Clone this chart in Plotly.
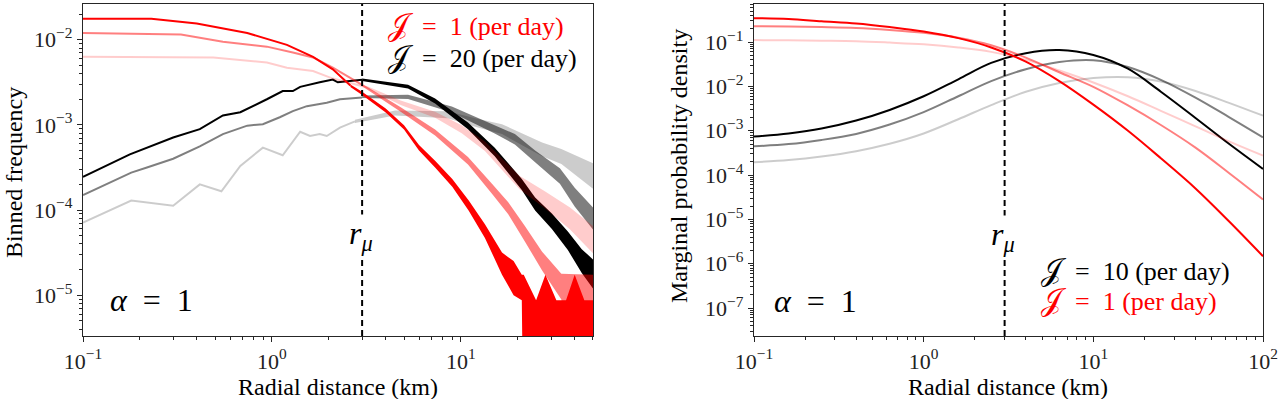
import plotly.graph_objects as go

# ---------------- data ----------------
R_MU = 3.0  # km

# Left panel: binned frequency.  Smooth part as lines, noisy tail as min/max bands
EMPTY = 1e-7  # empty bins (zero counts) -> drawn below the axis

L_RED_X = [0.1, 0.23, 0.4, 0.74, 1.2, 1.65, 2.1, 2.3, 2.6]
L_RED_Y = [1.76e-2, 1.76e-2, 1.55e-2, 1.2e-2, 8.7e-3, 6.3e-3, 4.5e-3, 3.7e-3, 2.9e-3]
L_RED_BX = [2.6, 3.0, 4.0, 5.0, 6.0, 7.3, 9.0, 11.0, 13.4, 16.5, 19.0, 21.0, 21.5, 25, 28, 32, 36, 40, 45, 50]
L_RED_HI = [2.99e-3, 2.45e-3, 1.56e-3, 9.9e-4, 5.8e-4, 3.8e-4, 2.32e-4, 1.29e-4, 6.8e-5, 3.16e-5,
            2.51e-5, 1.74e-5, 1.74e-5, 8.7e-6, 1.74e-5, 8.7e-6, 8.7e-6, 1.74e-5, 8.7e-6, 8.7e-6]
L_RED_LO = [2.79e-3, 2.24e-3, 1.4e-3, 8.8e-4, 4.99e-4, 3.16e-4, 1.88e-4, 9.8e-5, 4.7e-5, 1.74e-5,
            1.0e-5, 8.7e-6, EMPTY, EMPTY, EMPTY, EMPTY, EMPTY, EMPTY, EMPTY, EMPTY]

L_SAL_X = [0.1, 0.33, 0.55, 0.94, 1.29, 1.65, 2.1, 3.0]
L_SAL_Y = [1.2e-2, 1.15e-2, 9.5e-3, 8.3e-3, 7.1e-3, 6.2e-3, 4.7e-3, 2.95e-3]
L_SAL_BX = [3.0, 4.8, 7.3, 10.9, 14.6, 17.8, 21.8, 26.9, 34, 42, 50]
L_SAL_HI = [3.05e-3, 1.61e-3, 8.8e-4, 4.2e-4, 2.04e-4, 1.23e-4, 6.5e-5, 3.24e-5, 1.78e-5, 1.74e-5, 1.74e-5]
L_SAL_LO = [2.85e-3, 1.43e-3, 7.5e-4, 3.43e-4, 1.55e-4, 8.9e-5, 4.27e-5, 1.95e-5, 8.9e-6, EMPTY, EMPTY]

L_PNK_X = [0.1, 0.49, 0.94, 1.2, 1.65, 2.1, 3.2]
L_PNK_Y = [6.3e-3, 6.2e-3, 5.4e-3, 4.7e-3, 4.3e-3, 3.5e-3, 2.75e-3]
L_PNK_BX = [3.2, 4.8, 7.3, 10.1, 13.4, 20.5, 27.8, 37.8, 50]
L_PNK_HI = [2.85e-3, 1.93e-3, 1.43e-3, 9.9e-4, 6.4e-4, 2.51e-4, 1.66e-4, 1.07e-4, 6.5e-5]
L_PNK_LO = [2.66e-3, 1.71e-3, 1.21e-3, 8.0e-4, 4.95e-4, 1.74e-4, 1.05e-4, 5.9e-5, 3.1e-5]

L_BLK_X = [0.1, 0.177, 0.30, 0.415, 0.55, 0.68, 0.94, 1.14, 1.29, 1.41, 1.79, 2.1, 2.23, 3.0]
L_BLK_Y = [2.45e-4, 4.5e-4, 7.1e-4, 8.9e-4, 1.29e-3, 1.41e-3, 2.0e-3, 2.5e-3, 2.5e-3, 2.8e-3,
           3.16e-3, 3.4e-3, 3.16e-3, 3.4e-3]
L_BLK_BX = [3.0, 5.25, 7.3, 10.9, 15.1, 21, 24.7, 30.3, 36.8, 43.6, 50]
L_BLK_HI = [3.5e-3, 2.96e-3, 2.04e-3, 1.07e-3, 5.4e-4, 2.32e-4, 1.4e-4, 9.1e-5, 5.6e-5, 3.47e-5, 2.63e-5]
L_BLK_LO = [3.27e-3, 2.68e-3, 1.78e-3, 8.9e-4, 4.27e-4, 1.72e-4, 9.9e-5, 6.0e-5, 3.39e-5, 1.82e-5, 1.2e-5]

L_GRY_X = [0.1, 0.18, 0.218, 0.30, 0.415, 0.55, 0.74, 0.895, 1.1, 1.29, 1.53, 1.95, 2.29, 3.0]
L_GRY_Y = [1.5e-4, 2.75e-4, 3.16e-4, 4.0e-4, 5.6e-4, 7.8e-4, 9.8e-4, 1.02e-3, 1.23e-3, 1.45e-3,
           1.66e-3, 1.82e-3, 2.0e-3, 2.1e-3]
L_GRY_BX = [3.0, 5.25, 8.95, 15.1, 19.3, 24.7, 28.8, 33.4, 40, 50]
L_GRY_HI = [2.21e-3, 2.26e-3, 1.64e-3, 1.0e-3, 7.8e-4, 5.0e-4, 3.89e-4, 3.09e-4, 1.82e-4, 1.07e-4]
L_GRY_LO = [2.07e-3, 2.02e-3, 1.4e-3, 7.9e-4, 5.9e-4, 3.63e-4, 2.69e-4, 2.04e-4, 1.1e-4, 5.9e-5]

L_LGR_X = [0.1, 0.18, 0.30, 0.415, 0.54, 0.68, 0.895, 1.14, 1.41, 1.59, 1.79, 1.95, 2.29, 2.75]
L_LGR_Y = [7.1e-5, 1.29e-4, 1.12e-4, 2.0e-4, 1.66e-4, 3.3e-4, 5.4e-4, 4.4e-4, 8.3e-4, 7.4e-4,
           7.8e-4, 7.4e-4, 9.3e-4, 1.1e-3]
L_LGR_BX = [2.75, 4.48, 8.5, 11.9, 16.5, 21, 26.9, 34, 41.6, 50]
L_LGR_HI = [1.15e-3, 1.48e-3, 1.45e-3, 1.2e-3, 1.02e-3, 7.9e-4, 6.2e-4, 5.2e-4, 4.27e-4, 3.55e-4]
L_LGR_LO = [1.05e-3, 1.29e-3, 1.2e-3, 9.5e-4, 7.8e-4, 5.75e-4, 4.27e-4, 3.47e-4, 2.45e-4, 1.78e-4]

# Right panel: marginal probability density
R_X = [0.1, 0.16, 0.25, 0.4, 0.63, 1.0, 1.6, 2.5, 4.0, 6.3, 10, 16, 25, 40, 63, 100]
R_RED = [0.347, 0.331, 0.295, 0.263, 0.219, 0.174, 0.123, 0.0759, 0.0363, 0.0132,
         3.89e-3, 1.0e-3, 2.4e-4, 5.0e-5, 9.1e-6, 1.48e-6]
R_SAL = [0.229, 0.225, 0.219, 0.209, 0.188, 0.162, 0.126, 0.0851, 0.0447, 0.0209,
         9.8e-3, 3.72e-3, 1.35e-3, 4.17e-4, 1.12e-4, 2.82e-5]
R_PNK = [0.111, 0.110, 0.108, 0.105, 0.0977, 0.0891, 0.0759, 0.0603, 0.0398, 0.0229,
         0.0123, 6.0e-3, 2.82e-3, 1.26e-3, 5.75e-4, 2.75e-4]
R_BLK = [7.4e-4, 8.7e-4, 1.12e-3, 1.7e-3, 2.95e-3, 6.0e-3, 0.0145, 0.0339, 0.0562, 0.0661,
         0.0513, 0.0251, 7.6e-3, 1.95e-3, 5.1e-4, 1.38e-4]
R_GRY = [4.47e-4, 5.0e-4, 6.2e-4, 8.5e-4, 1.38e-3, 2.63e-3, 6.0e-3, 0.0132, 0.0245, 0.0355,
         0.0389, 0.0275, 0.0141, 5.6e-3, 2.04e-3, 7.1e-4]
R_LGR = [1.95e-4, 2.19e-4, 2.63e-4, 3.47e-4, 5.1e-4, 8.7e-4, 1.82e-3, 3.8e-3, 7.6e-3, 0.012,
         0.0155, 0.0162, 0.0129, 7.9e-3, 4.27e-3, 2.19e-3]

# ticks
L_XTICKS = [0.1, 1, 10]
L_XTEXT = ["10<sup>−1</sup>", "10<sup>0</sup>", "10<sup>1</sup>"]
L_YTICKS = [1e-5, 1e-4, 1e-3, 1e-2]
L_YTEXT = ["10<sup>−5</sup>", "10<sup>−4</sup>", "10<sup>−3</sup>", "10<sup>−2</sup>"]
R_XTICKS = [0.1, 1, 10, 100]
R_XTEXT = ["10<sup>−1</sup>", "10<sup>0</sup>", "10<sup>1</sup>", "10<sup>2</sup>"]
R_YTICKS = [1e-7, 1e-6, 1e-5, 1e-4, 1e-3, 1e-2, 1e-1]
R_YTEXT = ["10<sup>−7</sup>", "10<sup>−6</sup>", "10<sup>−5</sup>", "10<sup>−4</sup>",
           "10<sup>−3</sup>", "10<sup>−2</sup>", "10<sup>−1</sup>"]

# colours
RED = "rgb(255,0,0)"
SAL = "rgba(255,0,0,0.5)"
PNK = "rgba(255,0,0,0.2)"
BLK = "rgb(0,0,0)"
GRY = "rgba(0,0,0,0.5)"
LGR = "rgba(0,0,0,0.2)"

FONT = "Liberation Serif"
W, H = 1280, 399
MT, MB = 4, 63

fig = go.Figure()


def add_line(x, y, color, xa, ya, spline=False):
    fig.add_trace(go.Scatter(
        x=x, y=y, mode="lines", xaxis=xa, yaxis=ya, showlegend=False, hoverinfo="skip",
        line=dict(color=color, width=2, shape="spline" if spline else "linear", smoothing=1.0)))


def add_band(x, hi, lo, color, xa, ya):
    fig.add_trace(go.Scatter(
        x=list(x) + list(x)[::-1], y=list(hi) + list(lo)[::-1], mode="lines", fill="toself",
        fillcolor=color, line=dict(width=0, color=color), xaxis=xa, yaxis=ya,
        showlegend=False, hoverinfo="skip"))


# left panel (greys first, reds on top)
for (lx, ly, bx, bh, bl, c) in [
    (L_LGR_X, L_LGR_Y, L_LGR_BX, L_LGR_HI, L_LGR_LO, LGR),
    (L_GRY_X, L_GRY_Y, L_GRY_BX, L_GRY_HI, L_GRY_LO, GRY),
    (L_BLK_X, L_BLK_Y, L_BLK_BX, L_BLK_HI, L_BLK_LO, BLK),
    (L_PNK_X, L_PNK_Y, L_PNK_BX, L_PNK_HI, L_PNK_LO, PNK),
    (L_SAL_X, L_SAL_Y, L_SAL_BX, L_SAL_HI, L_SAL_LO, SAL),
    (L_RED_X, L_RED_Y, L_RED_BX, L_RED_HI, L_RED_LO, RED),
]:
    add_line(lx, ly, c, "x", "y")
    add_band(bx, bh, bl, c, "x", "y")

# right panel
for (ry, c) in [(R_LGR, LGR), (R_GRY, GRY), (R_BLK, BLK), (R_PNK, PNK), (R_SAL, SAL), (R_RED, RED)]:
    add_line(R_X, ry, c, "x2", "y2", spline=True)


def minor_vals(lo_exp, hi_exp):
    return [m * 10.0 ** e for e in range(lo_exp, hi_exp) for m in range(2, 10)]


axis_common = dict(
    type="log", showline=True, linecolor="#262626", linewidth=1.3, mirror=True,
    ticks="outside", ticklen=5, tickwidth=1.1, tickcolor="#262626",
    showgrid=False, zeroline=False, tickmode="array", automargin=False,
    tickfont=dict(family=FONT, size=22, color="#222"),
)


def minor(vals):
    return dict(ticks="outside", ticklen=3, tickwidth=0.9, tickcolor="#262626",
                tickmode="array", tickvals=vals, showgrid=False)


fig.update_layout(
    width=W, height=H, margin=dict(l=0, r=0, t=MT, b=MB, autoexpand=False),
    paper_bgcolor="white", plot_bgcolor="white", showlegend=False,
    xaxis=dict(axis_common, domain=[83 / W, 593 / W], range=[-1, 1.699], anchor="y",
               tickvals=L_XTICKS, ticktext=L_XTEXT, minor=minor(minor_vals(-1, 2))),
    yaxis=dict(axis_common, domain=[0, 1], range=[-5.48, -1.58], anchor="x",
               tickvals=L_YTICKS, ticktext=L_YTEXT, minor=minor(minor_vals(-6, -1))),
    xaxis2=dict(axis_common, domain=[754 / W, 1263 / W], range=[-1, 2], anchor="y2",
                tickvals=R_XTICKS, ticktext=R_XTEXT, minor=minor(minor_vals(-1, 2))),
    yaxis2=dict(axis_common, domain=[0, 1], range=[-7.63, -0.14], anchor="x2",
                tickvals=R_YTICKS, ticktext=R_YTEXT, minor=minor(minor_vals(-8, 0))),
)

# r_mu dashed lines
for xr, yr in [("x", "y domain"), ("x2", "y2 domain")]:
    fig.add_shape(type="line", xref=xr, yref=yr, x0=R_MU, x1=R_MU, y0=0, y1=1,
                  line=dict(color="black", width=2, dash="6px,4px"))


def px(x):
    return x / W


def py(y):
    return (H - MB - y) / (H - MT - MB)


def note(text, x, y, size, color="black", xanchor="center", angle=0, bg=None, family=FONT):
    fig.add_annotation(text=text, x=px(x), y=py(y), xref="paper", yref="paper",
                       xanchor=xanchor, yanchor="middle", showarrow=False, textangle=angle,
                       font=dict(family=family, size=size, color=color),
                       bgcolor=bg if bg else "rgba(0,0,0,0)", borderpad=0)


J = "<span style='font-size:30px'>𝒥</span>"
SP = "\u2002"
note(f"{J}{SP}={SP}1 (per day)", 387, 25, 26, color="red", xanchor="left")
note(f"{J}{SP}={SP}20 (per day)", 387, 57, 26, color="black", xanchor="left")
note(f"{J}{SP}={SP}10 (per day)", 1040, 270, 26, color="black", xanchor="left")
note(f"{J}{SP}={SP}1 (per day)", 1040, 300, 26, color="red", xanchor="left")

note(f"<i>α</i>{SP}={SP}1", 151, 300, 32)
note(f"<i>α</i>{SP}={SP}1", 815, 301, 32)

note("<i>r</i><sub><i>μ</i></sub>", 361, 235, 32, bg="white")
note("<i>r</i><sub><i>μ</i></sub>", 1003, 236, 32, bg="white")

note("Binned frequency", 14, 173, 24, angle=-90)
note("Marginal probability density", 679, 166, 24, angle=-90)
note("Radial distance (km)", 338, 387, 24)
note("Radial distance (km)", 1008, 387, 24)

fig.write_html("out.html", post_script="document.body.style.margin='0px';",
               config={"displayModeBar": False})
